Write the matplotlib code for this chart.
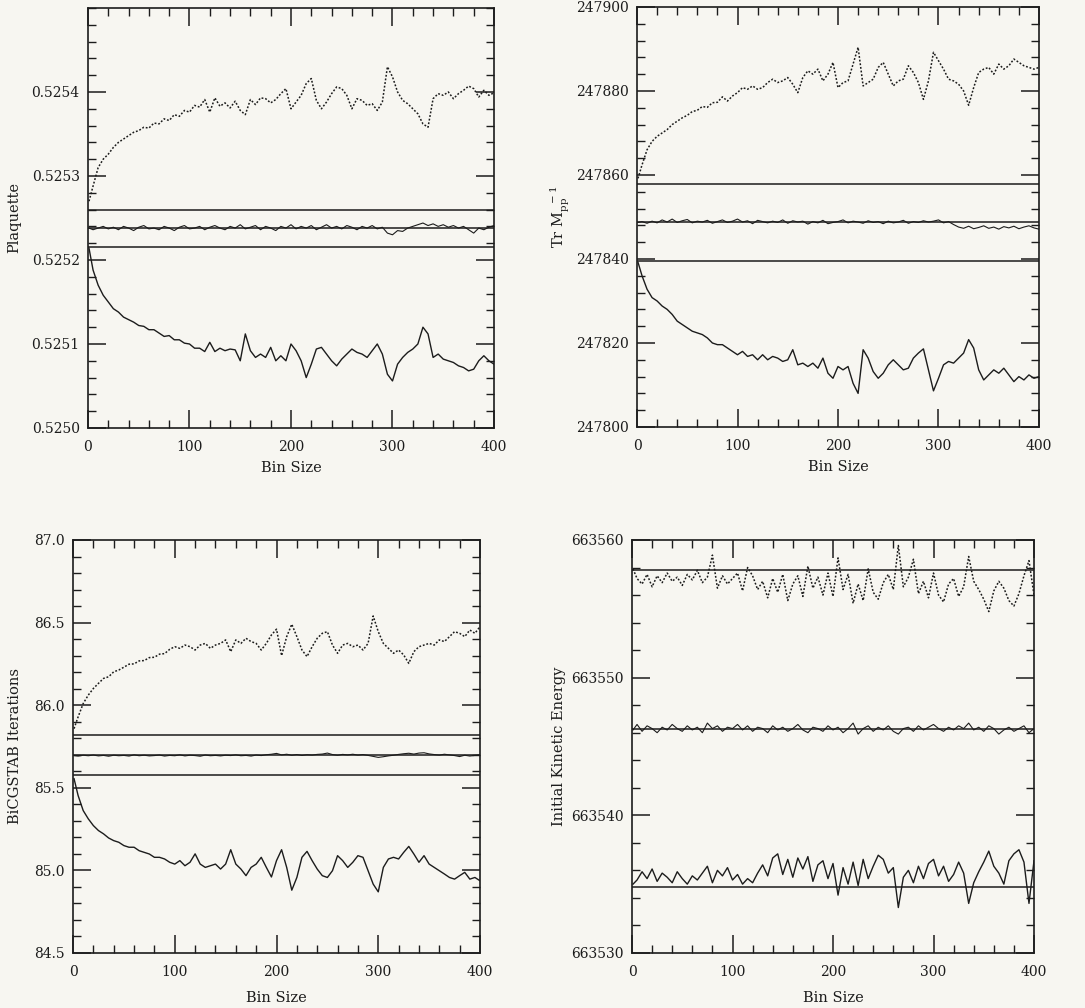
import matplotlib
matplotlib.use("Agg")
import matplotlib.pyplot as plt
from matplotlib.ticker import MultipleLocator, FormatStrFormatter

plt.rcParams['font.family'] = ['DejaVu Serif']
plt.rcParams['mathtext.fontset'] = 'dejavuserif'

INK = '#1c1c1c'
PAPER = '#f7f6f1'

# bin sizes (first point is bin size 1, then every 5)
bins = [1] + list(range(5, 401, 5))

# ---- Plaquette ----
plaq_hi = [
    0.525270, 0.525288, 0.525310, 0.525320, 0.525326, 0.525334, 0.525340, 0.525344, 0.525348, 0.525352,
    0.525354, 0.525358, 0.525357, 0.525363, 0.525362, 0.525368, 0.525366, 0.525373, 0.525371, 0.525378,
    0.525376, 0.525384, 0.525382, 0.525391, 0.525376, 0.525393, 0.525383, 0.525387, 0.525381, 0.525389,
    0.525378, 0.525373, 0.525391, 0.525385, 0.525393, 0.525392, 0.525387, 0.525391, 0.525398, 0.525404,
    0.525380, 0.525388, 0.525396, 0.525410, 0.525416, 0.525390, 0.525380, 0.525388, 0.525398, 0.525406,
    0.525404, 0.525396, 0.525380, 0.525392, 0.525390, 0.525384, 0.525386, 0.525378, 0.525388, 0.525430,
    0.525418, 0.525400, 0.525390, 0.525386, 0.525380, 0.525374, 0.525362, 0.525358, 0.525392, 0.525398,
    0.525396, 0.525400, 0.525392, 0.525398, 0.525402, 0.525407, 0.525404, 0.525394, 0.525402, 0.525396,
    0.525399,
]
plaq_mid = [
    0.525238, 0.525236, 0.525238, 0.525240, 0.525237, 0.525239, 0.525236, 0.525240, 0.525238, 0.525235,
    0.525239, 0.525241, 0.525237, 0.525238, 0.525236, 0.525240, 0.525238, 0.525235, 0.525239, 0.525241,
    0.525237, 0.525238, 0.525240, 0.525236, 0.525239, 0.525241, 0.525238, 0.525236, 0.525240, 0.525238,
    0.525242, 0.525237, 0.525239, 0.525241, 0.525236, 0.525240, 0.525238, 0.525235, 0.525240, 0.525238,
    0.525242, 0.525237, 0.525240, 0.525238, 0.525241, 0.525236, 0.525239, 0.525242, 0.525238, 0.525240,
    0.525237, 0.525241, 0.525239, 0.525236, 0.525240, 0.525238, 0.525241, 0.525237, 0.525239, 0.525232,
    0.525230, 0.525235, 0.525234, 0.525238, 0.525240, 0.525242, 0.525244, 0.525241, 0.525243, 0.525240,
    0.525242, 0.525239, 0.525241, 0.525238, 0.525240, 0.525236, 0.525232, 0.525238, 0.525236, 0.525239,
    0.525241,
]
plaq_lo = [
    0.525214, 0.525188, 0.525170, 0.525158, 0.525150, 0.525142, 0.525138, 0.525132, 0.525129, 0.525126,
    0.525122, 0.525121, 0.525117, 0.525117, 0.525113, 0.525109, 0.525110, 0.525105, 0.525105, 0.525101,
    0.525100, 0.525095, 0.525095, 0.525091, 0.525102, 0.525091, 0.525095, 0.525092, 0.525094, 0.525093,
    0.525080, 0.525112, 0.525092, 0.525084, 0.525088, 0.525084, 0.525096, 0.525080, 0.525086, 0.525080,
    0.525100, 0.525092, 0.525080, 0.525060, 0.525076, 0.525094, 0.525096, 0.525088, 0.525080, 0.525074,
    0.525082, 0.525088, 0.525094, 0.525090, 0.525088, 0.525084, 0.525092, 0.525100, 0.525088, 0.525064,
    0.525056, 0.525076, 0.525084, 0.525090, 0.525094, 0.525100, 0.525120, 0.525112, 0.525084, 0.525088,
    0.525082, 0.525080, 0.525078, 0.525074, 0.525072, 0.525068, 0.525070, 0.525080, 0.525086, 0.525080,
    0.525076,
]
plaq_band = [0.525260, 0.525238, 0.525216]

# ---- Tr M^-1 ----
trm_hi = [
    247859.2, 247862.4, 247866.0, 247868.0, 247869.2, 247870.0, 247870.8, 247872.0, 247872.8, 247873.6,
    247874.2, 247875.1, 247875.4, 247876.3, 247876.1, 247877.2, 247877.3, 247878.6, 247877.6, 247878.8,
    247879.6, 247880.8, 247880.4, 247881.2, 247880.4, 247880.8, 247882.0, 247882.8, 247882.0, 247882.4,
    247883.2, 247881.6, 247879.6, 247883.2, 247884.8, 247884.0, 247885.2, 247882.4, 247884.0, 247886.8,
    247880.8, 247882.0, 247882.4, 247886.4, 247890.4, 247881.2, 247882.0, 247882.8, 247885.6, 247886.8,
    247884.0, 247881.2, 247882.4, 247882.8, 247886.0, 247884.4, 247882.0, 247878.0, 247882.4, 247889.2,
    247887.2, 247885.2, 247882.8, 247882.4, 247881.6, 247880.0, 247876.6, 247880.8, 247884.4, 247885.2,
    247885.6, 247884.0, 247886.4, 247885.2, 247886.0, 247887.6, 247886.8, 247886.0, 247885.6, 247885.2,
    247885.6,
]
trm_mid = [
    247848.7, 247848.9, 247848.5, 247849.0, 247848.6, 247849.3, 247848.8, 247849.5, 247848.7, 247849.1,
    247849.4, 247848.6, 247849.0, 247848.8, 247849.2, 247848.5, 247848.9, 247849.3, 247848.7, 247849.0,
    247849.5, 247848.8, 247849.1, 247848.4, 247849.2, 247848.9, 247848.6, 247849.0, 247848.7, 247849.3,
    247848.5, 247849.1, 247848.8, 247849.0, 247848.3, 247848.9, 247848.6, 247849.2, 247848.4, 247848.7,
    247848.9, 247849.3, 247848.6, 247849.0, 247848.8, 247848.5, 247849.1, 247848.7, 247848.9, 247848.4,
    247849.0, 247848.6, 247848.8, 247849.2, 247848.5, 247848.9, 247848.7, 247849.1, 247848.8, 247849.0,
    247849.3, 247848.6, 247848.9, 247848.2, 247847.6, 247847.3, 247847.8, 247847.2, 247847.5, 247847.9,
    247847.3, 247847.6, 247847.1, 247847.7, 247847.4, 247847.8, 247847.2, 247847.6, 247847.9, 247847.4,
    247847.1,
]
trm_lo = [
    247839.2, 247836.0, 247832.8, 247830.8, 247830.0, 247828.8, 247828.0, 247826.8, 247825.2, 247824.4,
    247823.6, 247822.8, 247822.4, 247822.0, 247821.2, 247820.0, 247819.6, 247819.6, 247818.8, 247818.0,
    247817.2, 247818.0, 247816.8, 247817.2, 247816.0, 247817.2, 247816.0, 247816.8, 247816.4, 247815.6,
    247816.0, 247818.4, 247814.8, 247815.2, 247814.4, 247815.2, 247814.0, 247816.4, 247812.8, 247811.6,
    247814.4, 247813.6, 247814.4, 247810.4, 247808.0, 247818.4, 247816.4, 247813.2, 247811.6, 247812.8,
    247814.8, 247816.0, 247814.8, 247813.6, 247814.0, 247816.4, 247817.6, 247818.6, 247813.6, 247808.6,
    247811.6, 247814.8, 247815.6, 247815.2, 247816.4, 247817.6, 247820.8, 247818.8, 247813.6, 247811.2,
    247812.4, 247813.6, 247812.8, 247814.0, 247812.4, 247810.8, 247812.0, 247811.2, 247812.4, 247811.6,
    247812.0,
]
trm_band = [247857.9, 247848.7, 247839.6]

# ---- BiCGSTAB iterations ----
iter_hi = [
    85.858, 85.929, 86.010, 86.061, 86.101, 86.132, 86.162, 86.172, 86.202, 86.213,
    86.230, 86.248, 86.250, 86.268, 86.270, 86.288, 86.290, 86.309, 86.312, 86.338,
    86.354, 86.344, 86.364, 86.354, 86.334, 86.364, 86.374, 86.344, 86.364, 86.374,
    86.395, 86.324, 86.395, 86.374, 86.405, 86.385, 86.374, 86.334, 86.374, 86.425,
    86.460, 86.300, 86.415, 86.490, 86.415, 86.334, 86.294, 86.354, 86.405, 86.435,
    86.445, 86.364, 86.314, 86.364, 86.374, 86.354, 86.364, 86.334, 86.374, 86.540,
    86.445, 86.374, 86.344, 86.314, 86.334, 86.304, 86.253, 86.324, 86.354, 86.364,
    86.374, 86.364, 86.395, 86.385, 86.415, 86.445, 86.435, 86.415, 86.455, 86.435,
    86.476,
]
iter_mid = [
    85.695, 85.692, 85.697, 85.694, 85.698, 85.693, 85.696, 85.691, 85.697, 85.694,
    85.696, 85.692, 85.699, 85.694, 85.697, 85.693, 85.695, 85.698, 85.692, 85.696,
    85.694, 85.699, 85.693, 85.697, 85.695, 85.691, 85.698, 85.694, 85.696, 85.693,
    85.697, 85.695, 85.699, 85.694, 85.696, 85.692, 85.698, 85.695, 85.700, 85.703,
    85.708, 85.699, 85.703, 85.697, 85.701, 85.696, 85.700, 85.698, 85.702, 85.704,
    85.710, 85.701, 85.697, 85.702, 85.699, 85.703, 85.698, 85.701, 85.696, 85.690,
    85.684, 85.688, 85.693, 85.697, 85.702, 85.706, 85.709, 85.704, 85.710, 85.712,
    85.705, 85.701, 85.698, 85.703, 85.699, 85.695, 85.689, 85.697, 85.692, 85.696,
    85.699,
]
iter_lo = [
    85.555, 85.453, 85.362, 85.312, 85.271, 85.241, 85.221, 85.196, 85.180, 85.170,
    85.150, 85.140, 85.140, 85.119, 85.109, 85.099, 85.079, 85.079, 85.069, 85.049,
    85.038, 85.059, 85.028, 85.049, 85.100, 85.038, 85.018, 85.028, 85.038, 85.008,
    85.038, 85.125, 85.038, 85.008, 84.968, 85.018, 85.038, 85.079, 85.018, 84.960,
    85.059, 85.125, 85.018, 84.880, 84.957, 85.079, 85.115, 85.059, 85.008, 84.968,
    84.957, 84.998, 85.089, 85.059, 85.018, 85.049, 85.089, 85.079, 84.998, 84.917,
    84.870, 85.018, 85.069, 85.079, 85.069, 85.109, 85.145, 85.099, 85.049, 85.089,
    85.038, 85.018, 84.998, 84.978, 84.957, 84.947, 84.968, 84.988, 84.947, 84.957,
    84.937,
]
iter_band = [85.818, 85.696, 85.575]

# ---- Initial kinetic energy ----
ke_hi = [
    663557.9, 663557.2, 663556.8, 663557.5, 663556.6, 663557.4, 663556.9, 663557.6, 663557.0, 663557.3,
    663556.7, 663557.5, 663557.1, 663557.8, 663556.9, 663557.3, 663558.9, 663556.5, 663557.4, 663556.8,
    663557.2, 663557.6, 663556.3, 663558.0, 663557.4, 663556.4, 663557.0, 663555.8, 663557.2, 663556.2,
    663557.5, 663555.6, 663556.8, 663557.4, 663555.9, 663558.1, 663556.5, 663557.3, 663556.0, 663557.6,
    663555.9, 663558.7, 663556.4, 663557.5, 663555.4, 663556.8, 663555.6, 663557.9, 663556.2, 663555.7,
    663556.9, 663557.5, 663556.4, 663559.6, 663556.6, 663557.3, 663558.6, 663556.1, 663557.0, 663555.8,
    663557.6, 663556.0, 663555.5, 663556.8, 663557.2, 663555.9, 663556.6, 663558.8, 663557.0, 663556.4,
    663555.7, 663554.8, 663556.3, 663557.0, 663556.5, 663555.6, 663555.2, 663556.1, 663557.4, 663558.5,
    663556.0,
]
ke_mid = [
    663546.2, 663546.6, 663546.1, 663546.5, 663546.3, 663546.0, 663546.4, 663546.2, 663546.6, 663546.3,
    663546.1, 663546.5, 663546.2, 663546.4, 663546.0, 663546.7, 663546.3, 663546.5, 663546.1, 663546.4,
    663546.3, 663546.6, 663546.2, 663546.5, 663546.1, 663546.4, 663546.3, 663546.0, 663546.5, 663546.2,
    663546.4, 663546.1, 663546.3, 663546.6, 663546.2, 663546.0, 663546.4, 663546.3, 663546.1, 663546.5,
    663546.2, 663546.4, 663546.0, 663546.3, 663546.7, 663545.9, 663546.3, 663546.5, 663546.1, 663546.4,
    663546.2, 663546.5, 663546.1, 663545.9, 663546.3, 663546.4, 663546.1, 663546.5, 663546.2, 663546.4,
    663546.6, 663546.3, 663546.1, 663546.4, 663546.2, 663546.5, 663546.3, 663546.7, 663546.2, 663546.4,
    663546.1, 663546.5, 663546.3, 663545.9, 663546.2, 663546.4, 663546.1, 663546.3, 663546.5, 663546.0,
    663546.3,
]
ke_lo = [
    663535.0, 663535.3, 663535.9, 663535.4, 663536.1, 663535.2, 663535.8, 663535.5, 663535.1, 663535.9,
    663535.4, 663535.0, 663535.6, 663535.3, 663535.8, 663536.3, 663535.1, 663536.0, 663535.6, 663536.2,
    663535.3, 663535.7, 663535.0, 663535.4, 663535.1, 663535.8, 663536.4, 663535.6, 663536.9, 663537.2,
    663535.7, 663536.8, 663535.5, 663536.9, 663536.1, 663537.0, 663535.2, 663536.4, 663536.7, 663535.4,
    663536.5, 663534.2, 663536.2, 663535.0, 663536.6, 663534.9, 663536.8, 663535.4, 663536.3, 663537.1,
    663536.8, 663535.8, 663536.2, 663533.3, 663535.5, 663536.0, 663535.1, 663536.3, 663535.4, 663536.5,
    663536.8, 663535.6, 663536.3, 663535.2, 663535.7, 663536.6, 663535.8, 663533.6, 663535.1, 663535.9,
    663536.6, 663537.4, 663536.3, 663535.8, 663535.0, 663536.7, 663537.2, 663537.5, 663536.6, 663533.6,
    663536.7,
]
ke_band = [663557.85, 663546.3, 663534.8]


fig = plt.figure(figsize=(10.85, 10.08), dpi=100, facecolor=PAPER)


def panel(rect, hi, mid, lo, band, ylim, major, minor, fmt, ylabel, ylab_x,
          xlab_y, yticks_max=None):
    ax = fig.add_axes(rect, facecolor=PAPER)
    # mean and its error band
    for level in band:
        ax.axhline(level, color=INK, lw=1.1)
    ax.plot(bins, hi, color=INK, lw=1.1, ls=(0, (1.2, 1.2)))
    ax.plot(bins, mid, color=INK, lw=0.8)
    ax.plot(bins, lo, color=INK, lw=1.0)

    ax.set_xlim(0, 400)
    ax.set_ylim(*ylim)
    ax.xaxis.set_major_locator(MultipleLocator(100))
    ax.xaxis.set_minor_locator(MultipleLocator(20))
    ax.yaxis.set_major_locator(MultipleLocator(major))
    ax.yaxis.set_minor_locator(MultipleLocator(minor))
    ax.yaxis.set_major_formatter(FormatStrFormatter(fmt))
    if yticks_max is not None:
        ticks = [t for t in ax.get_yticks() if ylim[0] - 1e-12 <= t <= yticks_max + 1e-12]
        ax.set_yticks(ticks)
    ax.tick_params(which='both', direction='in', top=True, right=True, colors=INK,
                   labelsize=10)
    ax.tick_params(which='major', length=13, width=1.1)
    ax.tick_params(which='minor', length=6, width=1.0)
    ax.tick_params(axis='x', pad=9)
    ax.tick_params(axis='y', pad=6)
    for s in ax.spines.values():
        s.set_linewidth(1.2)
        s.set_color(INK)

    ax.set_xlabel('Bin Size', fontsize=10.5, color=INK)
    ax.xaxis.set_label_coords(0.5, xlab_y)
    ax.set_ylabel(ylabel, fontsize=10.5, color=INK)
    ax.yaxis.set_label_coords(ylab_x, 0.5)
    return ax


panel([0.0811, 0.5754, 0.3742, 0.4167], plaq_hi, plaq_mid, plaq_lo, plaq_band,
      (0.5250, 0.5255), 0.0001, 0.00002, '%.4f', 'Plaquette', -0.165, -0.078,
      yticks_max=0.5254)

panel([0.5871, 0.5764, 0.3705, 0.4167], trm_hi, trm_mid, trm_lo, trm_band,
      (247800, 247900), 20, 4, '%d', r'Tr $\mathrm{M}_{\mathrm{pp}}^{\ \ -1}$', -0.162, -0.078)

panel([0.0673, 0.0546, 0.3751, 0.4097], iter_hi, iter_mid, iter_lo, iter_band,
      (84.5, 87.0), 0.5, 0.1, '%.1f', 'BiCGSTAB Iterations', -0.125, -0.093)

panel([0.5825, 0.0546, 0.3705, 0.4097], ke_hi, ke_mid, ke_lo, ke_band,
      (663530, 663560), 10, 2, '%d', 'Initial Kinetic Energy', -0.165, -0.093)

fig.savefig('out.png', dpi=100, facecolor=PAPER)
